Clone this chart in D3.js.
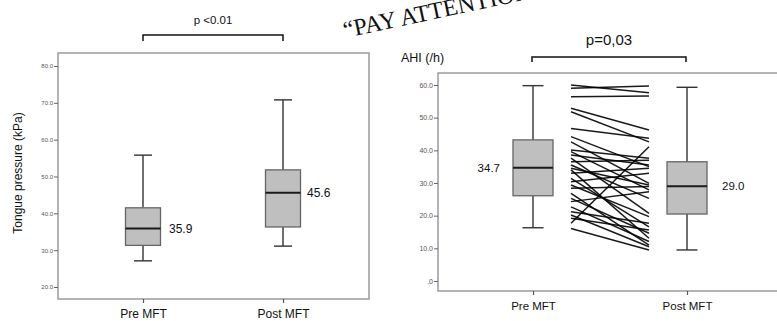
<!DOCTYPE html>
<html>
<head>
<meta charset="utf-8">
<script src="https://cdn.jsdelivr.net/npm/d3@7/dist/d3.min.js"></script>
<style>
  html, body { margin: 0; padding: 0; background: #fff; }
  svg { display: block; }
</style>
</head>
<body>
<svg id="chart" width="777" height="321"></svg>
<script>
// ---- data ----
const categories = ["Pre MFT", "Post MFT"];

// Tongue pressure (kPa) box summaries: min, Q1, median, Q3, max
const tongueMin    = [27.1, 31.1];
const tongueQ1     = [31.3, 36.3];
const tongueMedian = [35.9, 45.6];
const tongueQ3     = [41.5, 51.8];
const tongueMax    = [55.8, 70.8];
const tongueTicks  = [20, 30, 40, 50, 60, 70, 80];

// AHI (/h) box summaries
const ahiMin    = [16.3, 9.5];
const ahiQ1     = [26.1, 20.5];
const ahiMedian = [34.7, 29.0];
const ahiQ3     = [43.2, 36.5];
const ahiMax    = [59.8, 59.3];
const ahiTicks  = [0, 10, 20, 30, 40, 50, 60];

// individual AHI before / after therapy
const ahiPre  = [60.0, 59.0, 56.4, 52.9, 51.8, 46.7, 44.2, 42.6, 40.1, 39.6,
                 38.6, 37.6, 36.5, 35.5, 34.5, 34.0, 33.0, 31.4, 30.4, 29.4,
                 28.4, 26.8, 25.3, 24.3, 22.7, 21.2, 20.2, 19.2, 17.7, 16.1];
const ahiPost = [57.6, 59.7, 56.6, 46.2, 42.6, 43.7, 35.0, 29.9, 37.6, 27.9,
                 35.5, 20.7, 37.0, 25.3, 29.4, 13.1, 34.5, 16.6, 33.0, 19.7,
                 28.9, 11.0, 14.6, 27.3, 12.1, 17.7, 10.5, 15.6, 41.1, 9.5];

const pTongue = "p <0.01";
const pAhi = "p=0,03";

// ---- drawing ----
const svg = d3.select("#chart");
const sans = "'Liberation Sans', Arial, sans-serif";

function boxPanel(opt) {
  const g = svg.append("g");
  const { frame, x, y, ticks, tickFmt, tickFont, boxW, capW, stats, labels, labelFont, labelDx, catFont, catPad } = opt;

  // plot frame
  g.append("rect")
    .attr("x", frame.x0).attr("y", frame.y0)
    .attr("width", frame.x1 - frame.x0).attr("height", frame.y1 - frame.y0)
    .attr("fill", "none").attr("stroke", "#9a9a9a").attr("stroke-width", 1.5);

  // y axis
  const ya = g.append("g").attr("transform", `translate(${frame.x0},0)`)
    .call(d3.axisLeft(y).tickValues(ticks).tickFormat(tickFmt).tickSize(4).tickPadding(1));
  ya.select(".domain").remove();
  ya.selectAll("line").attr("stroke", "#666");
  ya.selectAll("text").attr("font-family", sans).attr("font-size", tickFont).attr("fill", "#555");

  // x axis
  const xa = g.append("g").attr("transform", `translate(0,${frame.y1})`)
    .call(d3.axisBottom(x).tickSize(4).tickPadding(catPad));
  xa.select(".domain").remove();
  xa.selectAll("line").attr("stroke", "#555").attr("stroke-width", 1.2);
  xa.selectAll("text").attr("font-family", sans).attr("font-size", catFont).attr("fill", "#111");

  categories.forEach((c, i) => {
    const cx = x(c);
    const s = stats[i];
    // whiskers
    g.append("line").attr("x1", cx).attr("x2", cx).attr("y1", y(s.max)).attr("y2", y(s.q3))
      .attr("stroke", "#333").attr("stroke-width", 1.4);
    g.append("line").attr("x1", cx).attr("x2", cx).attr("y1", y(s.q1)).attr("y2", y(s.min))
      .attr("stroke", "#333").attr("stroke-width", 1.4);
    [s.max, s.min].forEach(v => {
      g.append("line").attr("x1", cx - capW / 2).attr("x2", cx + capW / 2)
        .attr("y1", y(v)).attr("y2", y(v)).attr("stroke", "#333").attr("stroke-width", 1.4);
    });
    // box
    g.append("rect").attr("x", cx - boxW / 2).attr("y", y(s.q3))
      .attr("width", boxW).attr("height", y(s.q1) - y(s.q3))
      .attr("fill", "#bfbfbf").attr("stroke", "#666").attr("stroke-width", 1.3);
    // median
    g.append("line").attr("x1", cx - boxW / 2).attr("x2", cx + boxW / 2)
      .attr("y1", y(s.median)).attr("y2", y(s.median))
      .attr("stroke", "#1a1a1a").attr("stroke-width", 2);
    // median label
    g.append("text").attr("x", cx + labelDx[i]).attr("y", y(s.median))
      .attr("dy", "0.35em")
      .attr("text-anchor", labelDx[i] < 0 ? "end" : "start")
      .attr("font-family", sans).attr("font-size", labelFont).attr("fill", "#111")
      .text(labels[i]);
  });
  return g;
}

function bracket(x1, x2, yTop, drop, label, labelY, font) {
  svg.append("path")
    .attr("d", `M${x1},${yTop + drop}V${yTop}H${x2}V${yTop + drop}`)
    .attr("fill", "none").attr("stroke", "#111").attr("stroke-width", 1.5);
  svg.append("text").attr("x", (x1 + x2) / 2).attr("y", labelY)
    .attr("text-anchor", "middle").attr("font-family", sans).attr("font-size", font)
    .attr("fill", "#111").text(label);
}

const fmt1 = d3.format(".1f");
const stats = (mn, q1, md, q3, mx) => categories.map((c, i) => ({ min: mn[i], q1: q1[i], median: md[i], q3: q3[i], max: mx[i] }));

// ---- left panel: tongue pressure ----
const xL = d3.scalePoint().domain(categories).range([143, 283]);
const yL = d3.scaleLinear().domain([20, 80]).range([287, 66]);
boxPanel({
  frame: { x0: 58, x1: 369, y0: 53, y1: 299 },
  x: xL, y: yL, ticks: tongueTicks, tickFmt: fmt1, tickFont: 6,
  boxW: 35, capW: 18,
  stats: stats(tongueMin, tongueQ1, tongueMedian, tongueQ3, tongueMax),
  labels: tongueMedian.map(fmt1), labelFont: 12, labelDx: [26, 24],
  catFont: 12, catPad: 6
});
svg.append("text")
  .attr("transform", `translate(22,${173}) rotate(-90)`)
  .attr("text-anchor", "middle").attr("font-family", sans).attr("font-size", 12)
  .attr("fill", "#111").text("Tongue pressure (kPa)");
bracket(xL(categories[0]), xL(categories[1]), 35, 6, pTongue, 24, 11.5);

// ---- right panel: AHI ----
const xR = d3.scalePoint().domain(categories).range([533, 687]);
const yR = d3.scaleLinear().domain([0, 60]).range([281, 85]);
const gR = boxPanel({
  frame: { x0: 438, x1: 779, y0: 73, y1: 291 },
  x: xR, y: yR, ticks: ahiTicks, tickFmt: d => d === 0 ? ".0" : fmt1(d), tickFont: 7,
  boxW: 40, capW: 21,
  stats: stats(ahiMin, ahiQ1, ahiMedian, ahiQ3, ahiMax),
  labels: ahiMedian.map(fmt1), labelFont: 11.5, labelDx: [-33, 35],
  catFont: 11.5, catPad: 7
});

// paired lines between the two boxes
const xPair = d3.scaleLinear().domain([0, 1]).range([571, 649]);
gR.append("g").selectAll("line").data(ahiPre.map((v, i) => [v, ahiPost[i]]))
  .join("line")
  .attr("x1", xPair(0)).attr("x2", xPair(1))
  .attr("y1", d => yR(d[0])).attr("y2", d => yR(d[1]))
  .attr("stroke", "#000").attr("stroke-width", 1.5).attr("stroke-opacity", 0.9);

svg.append("text").attr("x", 401).attr("y", 62)
  .attr("font-family", sans).attr("font-size", 12.5).attr("fill", "#111").text("AHI (/h)");
bracket(xR(categories[0]) - 1, xR(categories[1]) - 1, 57, 5, pAhi, 45, 15);

// slanted heading, running off the top edge
svg.append("text")
  .attr("transform", "translate(345,38) rotate(-12)")
  .attr("font-family", "'Liberation Serif', 'Times New Roman', serif")
  .attr("font-size", 24).attr("fill", "#111")
  .text("\u201CPAY ATTENTION");
</script>
</body>
</html>
